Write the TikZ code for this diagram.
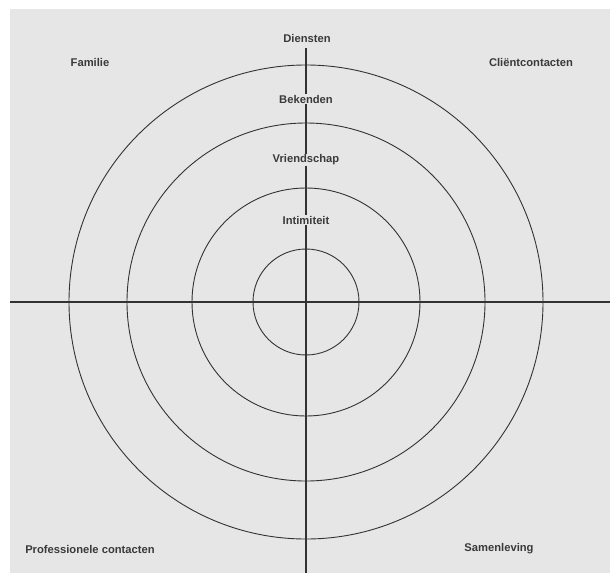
\documentclass[tikz,border=0pt]{standalone}
\usepackage{fontspec}
\setmainfont{Liberation Sans}
\definecolor{bg}{HTML}{E6E6E6}
\definecolor{ink}{HTML}{333333}
\definecolor{txt}{HTML}{3A3A3A}
\begin{document}
\begin{tikzpicture}[x=1pt,y=-1pt,
  ring/.style={draw=ink,line width=0.9pt},
  axis/.style={draw=ink,line width=1.3pt},
  lbl/.style={font=\bfseries\fontsize{11.2}{13}\selectfont,text=txt,fill=bg,inner sep=1pt}]
\useasboundingbox (0,0) rectangle (610,573);
\fill[bg] (10,9) rectangle (610,573);
\coordinate (c) at (306,302);
\coordinate (left) at (10,302);
\coordinate (right) at (610,302);
\coordinate (top) at (306,48);
\coordinate (bottom) at (306,573);
\draw[ring] (c) circle[radius=53];
\draw[ring] (c) circle[radius=114];
\draw[ring] (c) circle[radius=179];
\draw[ring] (c) circle[radius=237];
\draw[axis] (left) -- (right);
\draw[axis] (top) -- (bottom);
\node[lbl] (diensten) at (307,38) {Diensten};
\node[lbl] (bekenden) at (306,99) {Bekenden};
\node[lbl] (vriendschap) at (306,160) {Vriendschap};
\node[lbl] (intimiteit) at (306,220) {Intimiteit};
\node[lbl] (familie) at (90,62) {Familie};
\node[lbl] (client) at (531,62) {Cliëntcontacten};
\node[lbl] (prof) at (90,549) {Professionele contacten};
\node[lbl] (samen) at (499,549) {Samenleving};
\end{tikzpicture}
\end{document}
